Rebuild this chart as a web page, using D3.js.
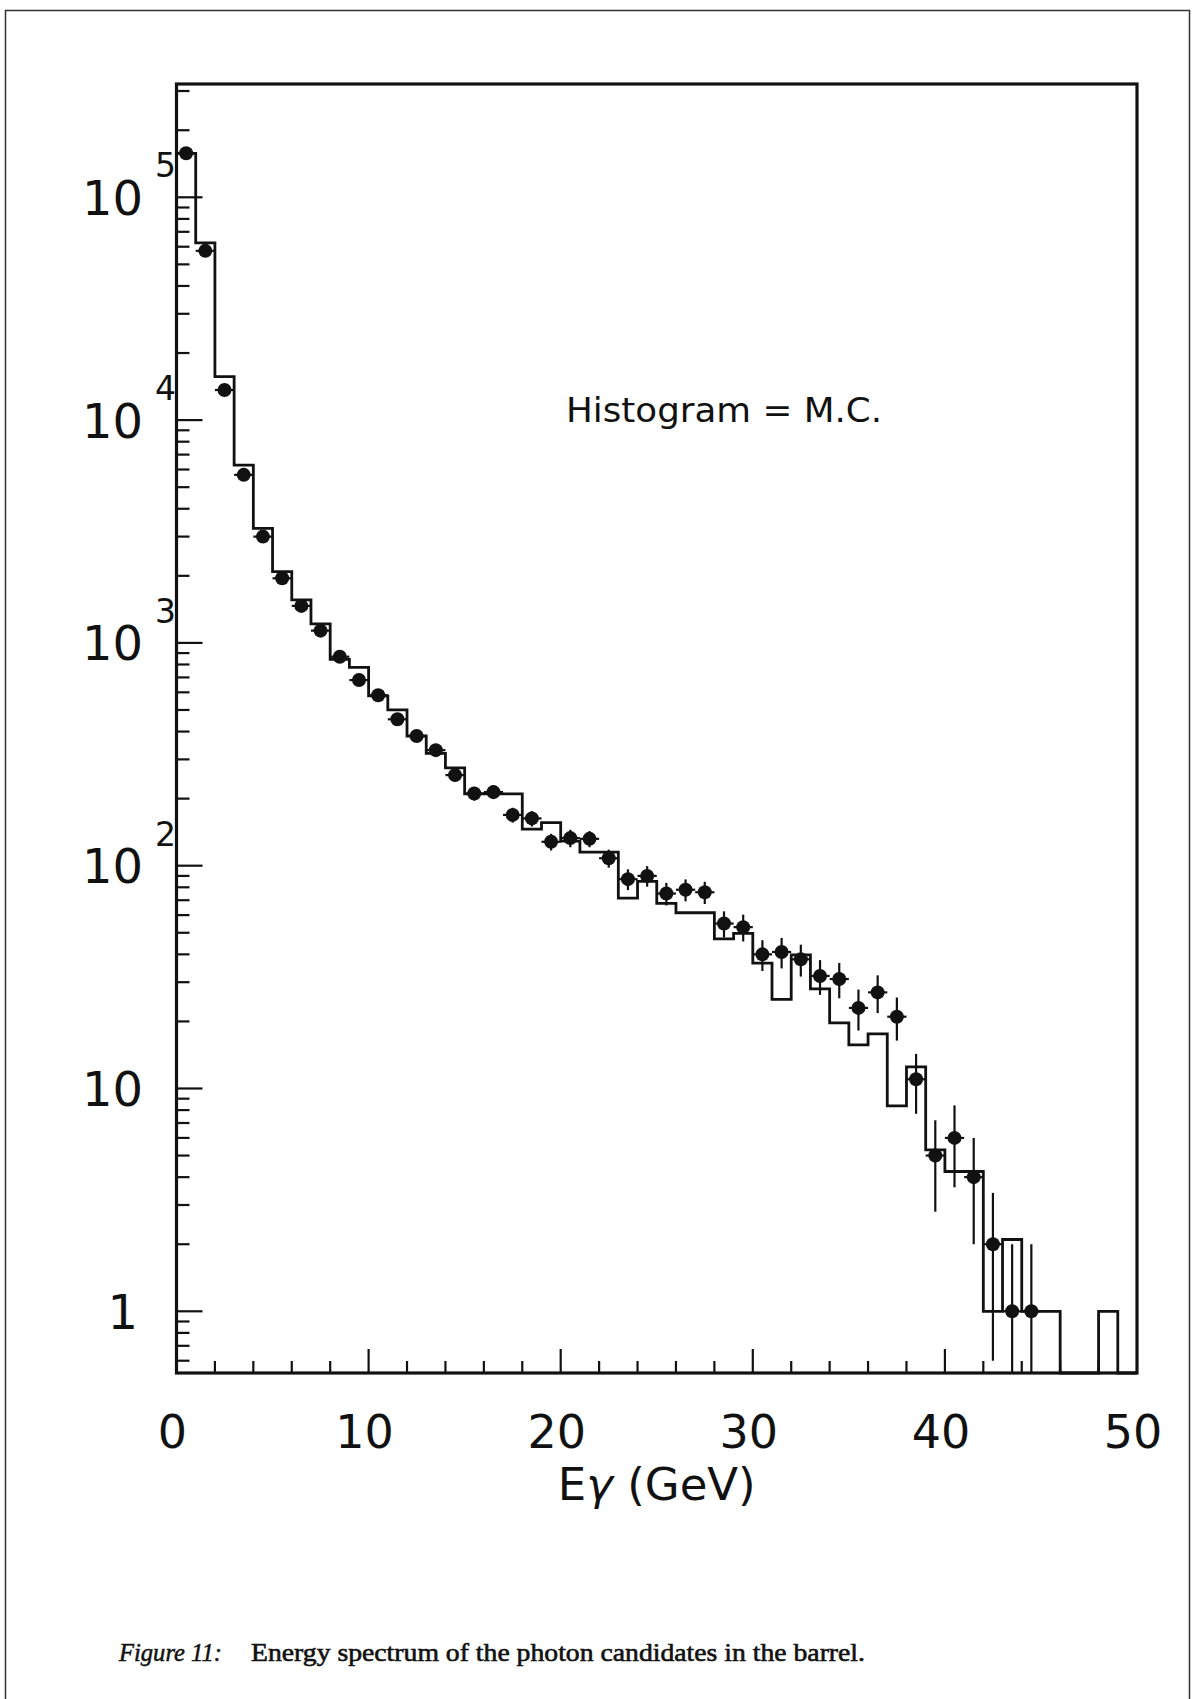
<!DOCTYPE html>
<html><head><meta charset="utf-8">
<script src="https://cdn.jsdelivr.net/npm/d3@7/dist/d3.min.js"></script>
<style>body{margin:0;background:#fff}svg{display:block}</style>
</head><body>
<script>
// ---- data ----
const binStart = [0,1,2,3,4,5,6,7,8,9,10,11,12,13,14,15,16,17,18,19,20,21,22,23,24,25,26,27,28,29,30,31,32,33,34,35,36,37,38,39,40,41,42,43,44,45,46,47,48,49];
const mcHist = [157600,62400,15670,6280,3265,2087,1560,1217,844,777,578,500,382,319,275,210,210,210,146,156,129,115,115,71.5,85,67.7,61.5,61.5,46.9,49.7,36.5,25.1,39.8,28,19.7,15.7,17.6,8.35,12.5,5.3,4.24,4.24,1,2.1,1,1,0,0,1,0];
const dataCenters = [0.5,1.5,2.5,3.5,4.5,5.5,6.5,7.5,8.5,9.5,10.5,11.5,12.5,13.5,14.5,15.5,16.5,17.5,18.5,19.5,20.5,21.5,22.5,23.5,24.5,25.5,26.5,27.5,28.5,29.5,30.5,31.5,32.5,33.5,34.5,35.5,36.5,37.5,38.5,39.5,40.5,41.5,42.5,43.5,44.5];
const dataCounts = [157600,57500,13650,5680,3000,1950,1466,1135,867,681,582,454,382,330,255,211,214,169,163,128,133,132,108,87,90,75,78,76,55,53,40,41,38,32,31,23,27,21,11,5,6,4,2,1,1];
const dataErrors = [397,240,117,75,55,44,38,34,29,26,24,21,20,18,16,15,15,13,13,11,12,11,10,9.3,9.5,8.7,8.8,8.7,7.4,7.3,6.3,6.4,6.2,5.7,5.6,4.8,5.2,4.6,3.3,2.2,2.4,2.0,1.4,1.0,1.0];
const binWidth = 1;
const xDomain = [0, 50];
const yDomain = [0.5285, 322500];
const xMajorTicks = [0,10,20,30,40,50];
const yMajorTicks = [1,10,100,1000,10000,100000];
const yTickBase = ["1","10","10","10","10","10"];
const yTickExp = ["","","2","3","4","5"];
const xTitle = ["E","γ"," (GeV)"];
const annotation = "Histogram = M.C.";
const captionLabel = "Figure 11:";
const captionText = "Energy spectrum of the photon candidates in the barrel.";

// ---- layout ----
const W = 1192, H = 1699;
const plot = {left:176.5, right:1137, top:84, bottom:1373};
const ink = "#111";

const svg = d3.select("body").append("svg").attr("width", W).attr("height", H);
svg.append("rect").attr("width", W).attr("height", H).attr("fill", "#fff");

// page border
svg.append("path")
  .attr("d", `M5.5,${H} L5.5,10.5 L1189.5,10.5 L1189.5,${H}`)
  .attr("fill","none").attr("stroke","#333").attr("stroke-width",1.5);

const x = d3.scaleLinear().domain(xDomain).range([plot.left, plot.right]);
const y = d3.scaleLog().domain(yDomain).range([plot.bottom, plot.top]);
const yv = v => v > 0 ? Math.max(plot.top, Math.min(plot.bottom, y(v))) : plot.bottom;

// histogram (MC) as a step outline
let d = `M${x(binStart[0])},${plot.bottom} L${x(binStart[0])},${yv(mcHist[0])}`;
mcHist.forEach((v, i) => {
  const x1 = x(binStart[i] + binWidth);
  d += ` L${x1},${yv(v)}`;
  const next = i + 1 < mcHist.length ? mcHist[i + 1] : 0;
  d += ` L${x1},${yv(next)}`;
});
svg.append("path").attr("d", d).attr("fill","none")
  .attr("stroke", ink).attr("stroke-width", 2.8).attr("stroke-linejoin","miter");

// data points with error bars
const g = svg.append("g").attr("stroke", ink).attr("stroke-width", 2.2);
dataCenters.forEach((c, i) => {
  const v = dataCounts[i], e = dataErrors[i];
  g.append("line").attr("x1", x(c)).attr("x2", x(c))
    .attr("y1", yv(v + e)).attr("y2", yv(v - e));
  g.append("line").attr("x1", x(c - binWidth/2)).attr("x2", x(c + binWidth/2))
    .attr("y1", y(v)).attr("y2", y(v));
});
svg.append("g").selectAll("circle").data(dataCenters).join("circle")
  .attr("cx", c => x(c)).attr("cy", (c, i) => y(dataCounts[i]))
  .attr("r", 7).attr("fill", ink);

// frame
svg.append("rect").attr("x", plot.left).attr("y", plot.top)
  .attr("width", plot.right - plot.left).attr("height", plot.bottom - plot.top)
  .attr("fill","none").attr("stroke", ink).attr("stroke-width", 3.2);

// y ticks (inside, left axis)
const yTicksAll = y.ticks(50).filter(t => t >= yDomain[0] && t <= yDomain[1]);
const tg = svg.append("g").attr("stroke", ink).attr("stroke-width", 2.2);
yTicksAll.forEach(t => {
  const major = yMajorTicks.some(m => Math.abs(m - t) < 1e-9 * m);
  tg.append("line").attr("x1", plot.left).attr("x2", plot.left + (major ? 26 : 13))
    .attr("y1", y(t)).attr("y2", y(t));
});
// x ticks (inside, bottom axis)
x.ticks(25).forEach(t => {
  const major = xMajorTicks.includes(t);
  if (t === xDomain[0] || t === xDomain[1]) return;
  tg.append("line").attr("x1", x(t)).attr("x2", x(t))
    .attr("y1", plot.bottom).attr("y2", plot.bottom - (major ? 24 : 12));
});

// y labels
const font = "DejaVu Sans, sans-serif";
yMajorTicks.forEach((t, i) => {
  const ty = y(t);
  svg.append("text").attr("x", yTickBase[i] === "1" ? 138 : 143).attr("y", ty + 17.5)
    .attr("text-anchor","end").attr("font-family", font).attr("font-size", 48)
    .attr("fill", ink).text(yTickBase[i]);
  if (yTickExp[i] !== "") {
    svg.append("text").attr("x", 155).attr("y", ty - 20)
      .attr("font-family", font).attr("font-size", 33)
      .attr("fill", ink).text(yTickExp[i]);
  }
});

// x labels
xMajorTicks.forEach(t => {
  svg.append("text").attr("x", x(t) - 4).attr("y", 1448)
    .attr("text-anchor","middle").attr("font-family", font).attr("font-size", 46)
    .attr("fill", ink).text(t);
});

// x title
const tt = svg.append("text").attr("x", (plot.left + plot.right) / 2).attr("y", 1500)
  .attr("text-anchor","middle").attr("font-family", font).attr("font-size", 45).attr("fill", ink);
tt.append("tspan").text(xTitle[0]);
tt.append("tspan").attr("font-style","italic").text(xTitle[1]);
tt.append("tspan").text(xTitle[2]);

// annotation
svg.append("text").attr("x", 566).attr("y", 422)
  .attr("font-family", font).attr("font-size", 34).attr("fill", ink)
  .attr("textLength", 316).attr("lengthAdjust","spacingAndGlyphs").text(annotation);

// caption
const serif = "Liberation Serif, Times New Roman, serif";
svg.append("text").attr("x", 119).attr("y", 1661)
  .attr("font-family", serif).attr("font-style","italic").attr("font-size", 25)
  .attr("fill", ink).attr("stroke", ink).attr("stroke-width", 0.5)
  .attr("textLength", 103).attr("lengthAdjust","spacingAndGlyphs").text(captionLabel);
svg.append("text").attr("x", 251).attr("y", 1661)
  .attr("font-family", serif).attr("font-size", 25).attr("fill", ink)
  .attr("stroke", ink).attr("stroke-width", 0.6)
  .attr("textLength", 614).attr("lengthAdjust","spacingAndGlyphs").text(captionText);
</script>
</body></html>
